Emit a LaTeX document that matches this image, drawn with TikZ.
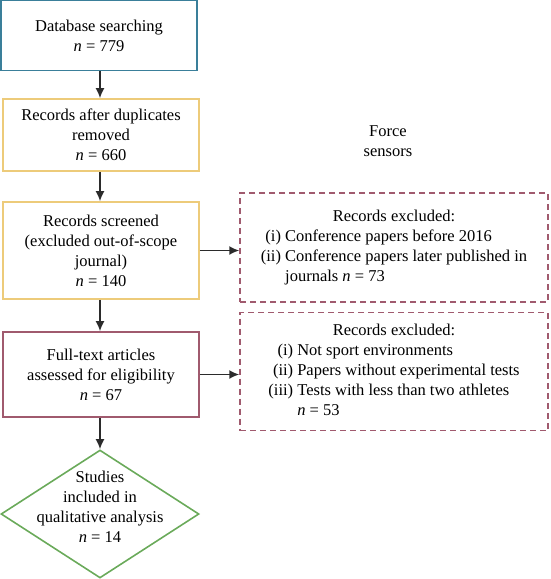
\documentclass[tikz,border=0pt]{standalone}
\usepackage{fontspec}
\setmainfont{Liberation Serif}
\usetikzlibrary{arrows.meta,shapes.geometric,positioning}
\definecolor{blau}{HTML}{3A7F9A}
\definecolor{gold}{HTML}{EDCB7A}
\definecolor{rot}{HTML}{A05A6E}
\definecolor{gruen}{HTML}{6AAA5A}
\definecolor{pfeilgrau}{HTML}{2B2B2B}
\begin{document}
\begin{tikzpicture}[x=1pt,y=-1pt,>={Latex[length=10pt,width=9pt]},
	every node/.style={font=\fontsize{16.5}{20}\selectfont,align=center},
	kasten/.style={draw,line width=1.6pt,minimum width=196pt,inner sep=0pt},
	ausschluss/.style={draw=rot,line width=1.5pt,dash pattern=on 6pt off 4pt,
		minimum width=308pt,inner sep=0pt},
	pfeil/.style={->,line width=1.6pt,draw=pfeilgrau}]
\useasboundingbox (0,0) rectangle (551,579);
\def\liste#1{\begin{tabular}{@{}r@{\ }l@{}}#1\end{tabular}}
% linke Spalte
\node[kasten,draw=blau,minimum height=70pt] (suche) at (99,35.5)
	{Database searching\\\textit{n} = 779};
\node[kasten,draw=gold,minimum height=72pt] (duplikate) at (101,135)
	{Records after duplicates\\removed\\\textit{n} = 660};
\node[kasten,draw=gold,minimum height=97pt] (screening) at (101,250.5)
	{Records screened\\(excluded out-of-scope\\journal)\\\textit{n} = 140};
\node[kasten,draw=rot,minimum height=85pt] (volltext) at (101,374.5)
	{Full-text articles\\assessed for eligibility\\\textit{n} = 67};
\node[diamond,draw=gruen,line width=1.6pt,minimum width=198pt,minimum height=128pt,
	inner sep=0pt] (studien) at (100,514) {};
\node (studientext) at (100,507)
	{Studies\\included in\\qualitative analysis\\\textit{n} = 14};
% rechte Spalte
\node (sensoren) at (388,141.5) {Force\\sensors};
\node[ausschluss,minimum height=109pt] (ausschlussA) at (394,247.5) {\liste{
	\multicolumn{2}{c}{Records excluded:}\\
	(i) & Conference papers before 2016\\
	(ii) & Conference papers later published in\\
	& journals \textit{n} = 73}};
\node[ausschluss,minimum height=118pt] (ausschlussB) at (394,371.5) {\liste{
	\multicolumn{2}{c}{Records excluded:}\\
	(i) & Not sport environments\\
	(ii) & Papers without experimental tests\\
	(iii) & Tests with less than two athletes\\
	& \textit{n} = 53}};
% Pfeile
\draw[pfeil] (suche.south -| 100,0) -- (duplikate.north -| 100,0);
\draw[pfeil] (duplikate.south -| 100,0) -- (screening.north -| 100,0);
\draw[pfeil] (screening.south -| 100,0) -- (volltext.north -| 100,0);
\draw[pfeil] (volltext.south -| 100,0) -- (studien.north);
\draw[pfeil] (screening.east) -- (screening.east -| ausschlussA.west);
\draw[pfeil] (volltext.east) -- (volltext.east -| ausschlussB.west);
\end{tikzpicture}
\end{document}
